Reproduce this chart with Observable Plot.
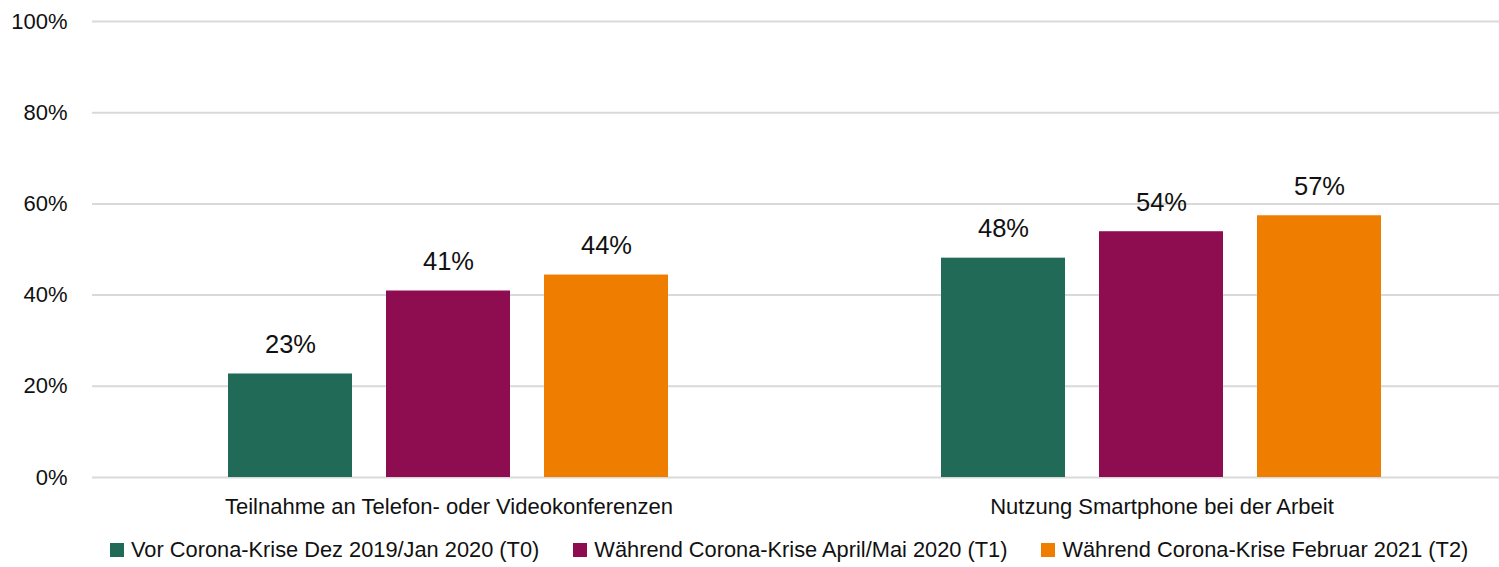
<!DOCTYPE html>
<html>
<head>
<meta charset="utf-8">
<script src="https://cdn.jsdelivr.net/npm/d3@7"></script>
<script src="https://cdn.jsdelivr.net/npm/@observablehq/plot@0.6"></script>
<style>
  html, body { margin: 0; padding: 0; background: #fff; overflow: hidden; }
  #wrap { width: 1499px; overflow: hidden; }
  #wrap svg { max-width: none !important; display: block; }
  #legend { display: flex; align-items: center; height: 24px; margin-top: 18px; padding-left: 110px;
            font-family: "Liberation Sans", Arial, sans-serif; font-size: 21.8px; color: #111; white-space: nowrap; }
  .item { display: flex; align-items: center; margin-right: 34px; }
  .sw { width: 14px; height: 14px; margin-right: 7px; }
</style>
</head>
<body>
<div id="wrap"><div id="chart"></div></div>
<div id="legend"></div>
<script>
const categories = ["Teilnahme an Telefon- oder Videokonferenzen", "Nutzung Smartphone bei der Arbeit"];
const series = ["Vor Corona-Krise Dez 2019/Jan 2020 (T0)", "Während Corona-Krise April/Mai 2020 (T1)", "Während Corona-Krise Februar 2021 (T2)"];
const valuesT0 = [22.7, 48.1];
const valuesT1 = [40.9, 53.9];
const valuesT2 = [44.4, 57.4];
const colors = ["#206A57", "#8E0D50", "#EF7D00"];
const yTicks = [0, 20, 40, 60, 80, 100];

const allValues = [valuesT0, valuesT1, valuesT2];
const data = [];
categories.forEach((c, i) => series.forEach((s, j) => data.push({category: c, series: s, value: allValues[j][i]})));

const font = "'Liberation Sans', Arial, sans-serif";
const chart = Plot.plot({
  width: 1518,
  height: 520,
  marginTop: 21,
  marginBottom: 43,
  marginLeft: 92,
  marginRight: 0,
  style: {fontFamily: font, fontSize: "22px", color: "#111", background: "#fff", maxWidth: "none"},
  fx: {domain: categories, padding: 0, label: null},
  x: {domain: series, paddingInner: 0.215, paddingOuter: 0.86, axis: null},
  y: {domain: [0, 100], label: null},
  color: {domain: series, range: colors},
  marks: [
    Plot.ruleY(yTicks, {stroke: "#d9d9d9", strokeWidth: 2}),
    Plot.barY(data, {fx: "category", x: "series", y: "value", fill: "series"}),
    Plot.text(data, {fx: "category", x: "series", y: "value", text: d => Math.round(d.value) + "%",
      dy: -29, lineAnchor: "middle", fontSize: 25.5, fill: "#111"}),
    Plot.axisY({ticks: yTicks, tickSize: 0, tickPadding: 25, tickFormat: d => d + "%", fontSize: 22, label: null}),
    Plot.axisFx({anchor: "bottom", tickSize: 0, tickPadding: 21, fontSize: 22, label: null})
  ]
});
document.getElementById("chart").appendChild(chart);

const legend = document.getElementById("legend");
series.forEach((s, j) => {
  const it = document.createElement("div");
  it.className = "item";
  const sw = document.createElement("div");
  sw.className = "sw";
  sw.style.background = colors[j];
  const t = document.createElement("span");
  t.textContent = s;
  it.appendChild(sw); it.appendChild(t);
  legend.appendChild(it);
});
</script>
</body>
</html>
